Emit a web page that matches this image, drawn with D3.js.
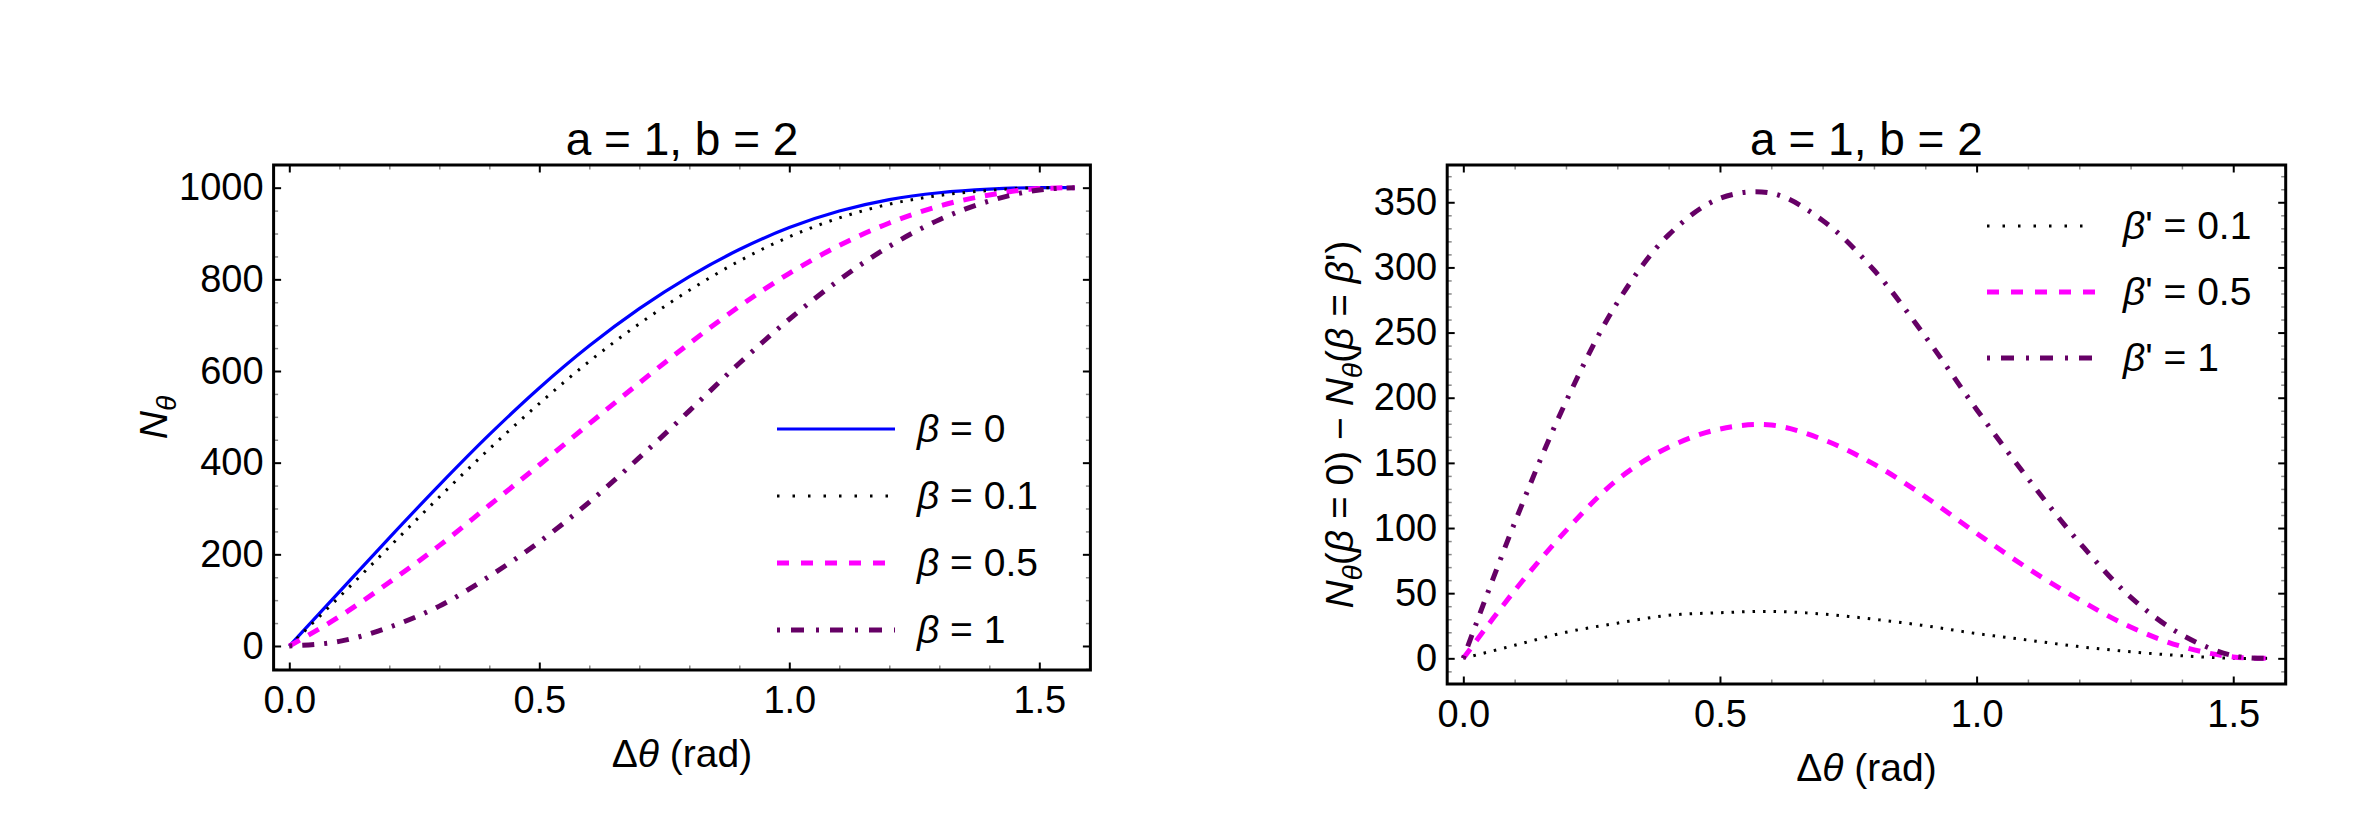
<!DOCTYPE html>
<html>
<head>
<meta charset="utf-8">
<script src="https://cdn.jsdelivr.net/npm/d3@7"></script>
<style>
  body { margin: 0; background: #fff; }
  svg { display: block; font-family: "Liberation Sans", Arial, sans-serif; }
</style>
</head>
<body>
<svg id="chart" width="2353" height="819"></svg>
<script>
// values, Δθ in rad
const theta = [0, 0.1, 0.2, 0.3, 0.4, 0.5, 0.6, 0.7, 0.8, 0.9, 1.0, 1.1, 1.2, 1.3, 1.4, 1.5, 1.5708]

// left panel: N_θ
const nBeta0  = [0, 118, 236, 351, 461, 563, 655, 736, 806, 865, 913, 949, 974, 989, 997, 1000, 1000]
const nBeta01 = [0, 107, 216, 325, 430, 529, 621, 703, 776, 840, 893, 934, 964, 983, 994, 1000, 1000]
const nBeta05 = [0, 64, 139, 219, 307, 395, 485, 574, 660, 741, 813, 874, 923, 960, 984, 998, 1000]
const nBeta1  = [0, 10, 41, 87, 152, 227, 314, 411, 513, 617, 713, 799, 872, 930, 971, 995, 1000]

// right panel: N_θ(β=0) - N_θ(β=β')
const diffBeta01 = [0, 10, 20, 27, 33, 35, 36, 34, 30, 25, 19, 14, 9, 5, 2, 0, 0]
const diffBeta05 = [0, 52, 98, 137, 162, 176, 179, 168, 149, 124, 96, 69, 45, 24, 9, 1, 0]
const diffBeta1  = [0, 104, 197, 273, 325, 353, 357, 336, 298, 247, 191, 138, 89, 47, 18, 2, 0]

const xTicks = [0, 0.5, 1, 1.5]
const leftYTicks = [0, 200, 400, 600, 800, 1000]
const rightYTicks = [0, 50, 100, 150, 200, 250, 300, 350]
const leftLabels = ['0', '0.1', '0.5', '1']
const rightLabels = ['0.1', '0.5', '1']

const svg = d3.select('#chart')

const styles = {
  solid:   { color: '#0000ff', width: 3.2, dash: null, legendDash: null },
  dotted:  { color: '#000000', width: 3, dash: '2.5,8', legendDash: '2.5,13' },
  dashed:  { color: '#ff00ff', width: 5, dash: '12,10', legendDash: '12,12' },
  dashdot: { color: '#660066', width: 5, dash: '3,10,12,10', legendDash: '3,11,13,12' },
}

const richText = (sel, segs, size) => {
  let shifted = 0
  segs.forEach(s => {
    const ts = sel.append('tspan').text(s.t)
    if (s.i) ts.attr('font-style', 'italic')
    if (s.sub) {
      ts.attr('font-size', size * 0.72).attr('dy', size * 0.24 - shifted)
      shifted = size * 0.24
    } else if (shifted) {
      ts.attr('dy', -shifted)
      shifted = 0
    }
  })
}

const styleAxis = (g, opts) => {
  g.attr('font-size', 38).attr('font-family', null)
  g.select('.domain').remove()
  g.selectAll('line').attr('stroke', opts.color || '#000').attr('stroke-width', opts.width || 2)
  g.selectAll('text').attr('fill', '#000')
}

function panel(cfg) {
  const g = svg.append('g')
  const x = d3.scaleLinear().domain([-0.0314, 1.6022]).range([cfg.x0, cfg.x1])
  const y = d3.scaleLinear().domain(cfg.yDomain).range([cfg.y1, cfg.y0])

  const minorX = d3.range(0, 1.61, 0.1).map(d => +d.toFixed(1)).filter(d => !xTicks.includes(d))
  const minorY = d3.range(-cfg.minorStep, cfg.yDomain[1], cfg.minorStep)
    .filter(d => d >= cfg.yDomain[0] && !cfg.yTicks.includes(d))

  // minor ticks
  const minors = [
    [d3.axisBottom(x), minorX, `translate(0,${cfg.y1})`],
    [d3.axisTop(x), minorX, `translate(0,${cfg.y0})`],
    [d3.axisLeft(y), minorY, `translate(${cfg.x0},0)`],
    [d3.axisRight(y), minorY, `translate(${cfg.x1},0)`],
  ]
  minors.forEach(([ax, vals, tr]) => {
    g.append('g').attr('transform', tr)
      .call(ax.tickValues(vals).tickSize(-4.5).tickFormat(''))
      .call(s => styleAxis(s, { color: '#8a8a8a', width: 1.5 }))
  })

  // major ticks, labels only on bottom and left
  g.append('g').attr('transform', `translate(0,${cfg.y1})`)
    .call(d3.axisBottom(x).tickValues(xTicks).tickFormat(d3.format('.1f')).tickSize(-7.5).tickPadding(16))
    .call(s => styleAxis(s, {}))
  g.append('g').attr('transform', `translate(0,${cfg.y0})`)
    .call(d3.axisTop(x).tickValues(xTicks).tickFormat('').tickSize(-7.5))
    .call(s => styleAxis(s, {}))
  g.append('g').attr('transform', `translate(${cfg.x0},0)`)
    .call(d3.axisLeft(y).tickValues(cfg.yTicks).tickFormat(d3.format('d')).tickSize(-7.5).tickPadding(10))
    .call(s => styleAxis(s, {}))
  g.append('g').attr('transform', `translate(${cfg.x1},0)`)
    .call(d3.axisRight(y).tickValues(cfg.yTicks).tickFormat('').tickSize(-7.5))
    .call(s => styleAxis(s, {}))

  // curves
  const line = d3.line()
    .x((d, i) => x(theta[i]))
    .y(d => y(d))
    .curve(cfg.curve)

  cfg.series.forEach(s => {
    const st = styles[s.style]
    g.append('path')
      .datum(s.values)
      .attr('d', line)
      .attr('fill', 'none')
      .attr('stroke', st.color)
      .attr('stroke-width', st.width)
      .attr('stroke-dasharray', st.dash)
  })

  // frame
  g.append('rect')
    .attr('x', cfg.x0).attr('y', cfg.y0)
    .attr('width', cfg.x1 - cfg.x0).attr('height', cfg.y1 - cfg.y0)
    .attr('fill', 'none').attr('stroke', '#000').attr('stroke-width', 3)

  // title
  g.append('text')
    .attr('x', (cfg.x0 + cfg.x1) / 2).attr('y', 155)
    .attr('text-anchor', 'middle').attr('font-size', 46)
    .text('a = 1, b = 2')

  // x label
  const xl = g.append('text')
    .attr('x', (cfg.x0 + cfg.x1) / 2).attr('y', cfg.y1 + 97)
    .attr('text-anchor', 'middle').attr('font-size', 39)
  richText(xl, [{ t: 'Δ' }, { t: 'θ', i: true }, { t: ' (rad)' }], 39)

  // y label
  const yl = g.append('text')
    .attr('transform', `translate(${cfg.yLabelX},${(cfg.y0 + cfg.y1) / 2}) rotate(-90)`)
    .attr('text-anchor', 'middle').attr('font-size', 39)
  richText(yl, cfg.yLabel, 39)

  // legend
  const leg = g.append('g')
  cfg.series.forEach((s, i) => {
    const st = styles[s.style]
    const ly = cfg.legend.y + i * cfg.legend.step
    leg.append('line')
      .attr('x1', cfg.legend.x1).attr('x2', cfg.legend.x2)
      .attr('y1', ly).attr('y2', ly)
      .attr('stroke', st.color).attr('stroke-width', st.width)
      .attr('stroke-dasharray', st.legendDash)
    const t = leg.append('text')
      .attr('x', cfg.legend.tx).attr('y', ly + 13).attr('font-size', 39)
    richText(t, s.label, 39)
  })
}

panel({
  x0: 273.6, x1: 1090.4, y0: 165, y1: 670,
  yDomain: [-52.4, 1049.5],
  yTicks: leftYTicks,
  minorStep: 50,
  curve: d3.curveMonotoneX,
  yLabelX: 167,
  yLabel: [{ t: 'N', i: true }, { t: 'θ', i: true, sub: true }],
  legend: { x1: 777, x2: 895, tx: 917, y: 429, step: 67 },
  series: [
    { values: nBeta0, style: 'solid', label: [{ t: 'β', i: true }, { t: ' = ' + leftLabels[0] }] },
    { values: nBeta01, style: 'dotted', label: [{ t: 'β', i: true }, { t: ' = ' + leftLabels[1] }] },
    { values: nBeta05, style: 'dashed', label: [{ t: 'β', i: true }, { t: ' = ' + leftLabels[2] }] },
    { values: nBeta1, style: 'dashdot', label: [{ t: 'β', i: true }, { t: ' = ' + leftLabels[3] }] },
  ],
})

panel({
  x0: 1447.2, x1: 2285.7, y0: 165, y1: 684,
  yDomain: [-19.7, 378.6],
  yTicks: rightYTicks,
  minorStep: 10,
  curve: d3.curveCatmullRom.alpha(0.5),
  yLabelX: 1353,
  yLabel: [
    { t: 'N', i: true }, { t: 'θ', i: true, sub: true }, { t: '(' }, { t: 'β', i: true }, { t: ' = 0) − ' },
    { t: 'N', i: true }, { t: 'θ', i: true, sub: true }, { t: '(' }, { t: 'β', i: true }, { t: ' = ' },
    { t: 'β', i: true }, { t: "')" },
  ],
  legend: { x1: 1987, x2: 2095, tx: 2123, y: 226, step: 66 },
  series: [
    { values: diffBeta01, style: 'dotted', label: [{ t: 'β', i: true }, { t: "' = " + rightLabels[0] }] },
    { values: diffBeta05, style: 'dashed', label: [{ t: 'β', i: true }, { t: "' = " + rightLabels[1] }] },
    { values: diffBeta1, style: 'dashdot', label: [{ t: 'β', i: true }, { t: "' = " + rightLabels[2] }] },
  ],
})
</script>
</body>
</html>
